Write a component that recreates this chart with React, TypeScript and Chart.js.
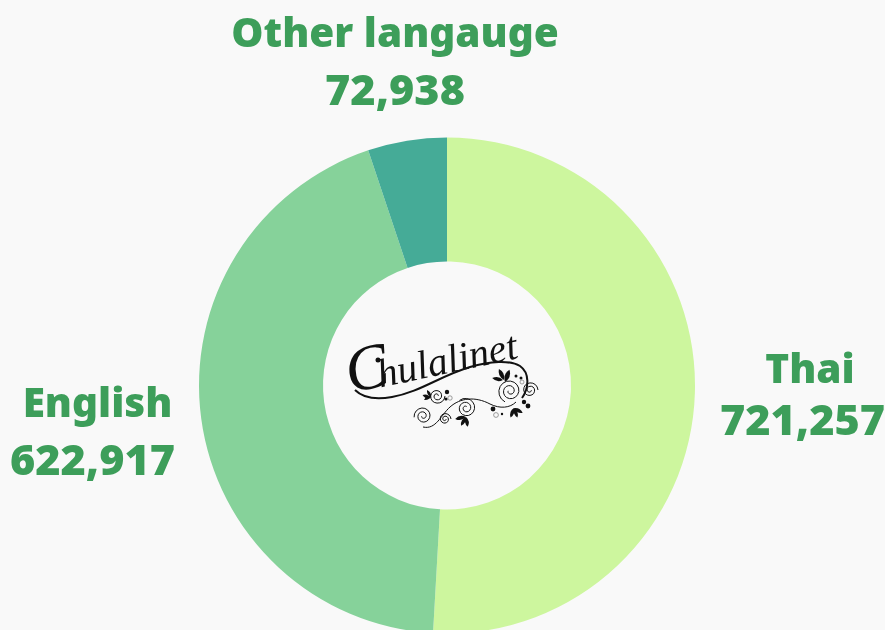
import React, { useEffect, useRef } from "react";
import { Chart, registerables } from "chart.js";

Chart.register(...registerables);

const categories = ["Thai", "English", "Other langauge"];
const values = [721257, 622917, 72938];
const sliceColors = ["#CDF69E", "#86D29A", "#45AB97"];
const textColor = "#3D9E5A";
const bg = "#F9F9F9";
const nameFont = '900 40.5px "Noto Sans", sans-serif';
const valueFont = '900 43.2px "Noto Sans", sans-serif';
// [name x, name baseline, value x, value baseline]
const labelPlaces = [
  [810, 383, 802.5, 435],
  [97.5, 417, 92.5, 475],
  [395, 47, 395, 105],
];

const labelPlugin = {
  id: "sliceLabels",
  afterDraw(chart: any) {
    const ctx = chart.ctx;
    ctx.save();
    ctx.fillStyle = textColor;
    ctx.textAlign = "center";
    ctx.textBaseline = "alphabetic";
    categories.forEach((c, i) => {
      const p = labelPlaces[i];
      ctx.font = nameFont;
      ctx.fillText(c, p[0], p[1]);
      ctx.font = valueFont;
      ctx.fillText(values[i].toLocaleString("en-US"), p[2], p[3]);
    });
    ctx.restore();
  },
};

function spiral(cx: number, cy: number, r: number, turns: number, start: number, dir = 1) {
  let d = "";
  const n = Math.round(turns * 16);
  for (let i = 0; i <= n; i++) {
    const t = i / n;
    const a = start + dir * t * turns * 2 * Math.PI;
    const rr = r * (1 - t * 0.85);
    d += `${i ? "L" : "M"}${(cx + rr * Math.cos(a)).toFixed(1)} ${(cy + rr * Math.sin(a)).toFixed(1)}`;
  }
  return d;
}

function leaf(x: number, y: number, len: number, angle: number) {
  return (
    <path
      d={`M0 0Q${len * 0.5} ${-len * 0.38} ${len} 0Q${len * 0.5} ${len * 0.38} 0 0Z`}
      transform={`translate(${x} ${y}) rotate(${angle})`}
      fill="#111"
    />
  );
}

const spirals = [
  [437, 396, 8, 2, 0, 1],
  [510, 391, 12, 2.2, 2, 1],
  [530, 390, 8, 2, 0, -1],
  [466, 408, 10, 2.2, 4, 1],
  [423, 416, 9, 2, 3, 1],
  [445, 419, 6, 2, 0, -1],
];
const dots = [
  [447, 392, 2.2],
  [446, 399, 1.6],
  [493, 409, 2.4],
  [524, 402, 2.2],
  [528, 406, 2.4],
  [516, 376, 1.5],
  [521, 378, 1.5],
  [502, 414, 1.2],
];
const rings = [
  [450, 398, 2.2],
  [496, 415, 2.4],
  [522, 382, 2],
];

function Logo() {
  return (
    <svg
      width={885}
      height={630}
      style={{ position: "absolute", left: 0, top: 0, pointerEvents: "none" }}
    >
      <text
        transform="translate(350 393) rotate(-12)"
        fontFamily='"Liberation Serif", serif'
        fontStyle="italic"
        fill="#111"
      >
        <tspan fontSize="64" dx="0" dy="0">C</tspan>
        <tspan fontSize="40" dx="-12" dy="1">hulalinet</tspan>
      </text>
      <circle cx={378} cy={360} r={2.5} fill="#111" />
      <path
        d="M355 390C362 397 375 400 392 397C420 392 440 376 470 367C490 361 510 360 520 366C530 373 529 388 522 398"
        fill="none"
        stroke="#111"
        strokeWidth={2}
      />
      <path
        d="M423 427C436 430 441 415 450 407C460 398 475 396 490 404C500 409 510 408 516 402"
        fill="none"
        stroke="#111"
        strokeWidth={1}
      />
      {spirals.map((s, i) => (
        <path key={i} d={spiral(s[0], s[1], s[2], s[3], s[4], s[5])} fill="none" stroke="#111" strokeWidth={1} />
      ))}
      {dots.map((d, i) => <circle key={i} cx={d[0]} cy={d[1]} r={d[2]} fill="#111" />)}
      {rings.map((d, i) => <circle key={i} cx={d[0]} cy={d[1]} r={d[2]} fill="none" stroke="#777" strokeWidth={0.7} />)}
      {leaf(505, 382, 13, -70)}
      {leaf(504, 380, 12, -115)}
      {leaf(503, 380, 11, -170)}
      {leaf(431, 398, 9, -160)}
      {leaf(431, 396, 8, 150)}
      {leaf(431, 397, 8, -120)}
      {leaf(466, 417, 11, 170)}
      {leaf(466, 417, 10, 120)}
      {leaf(466, 417, 10, 80)}
      {leaf(514, 408, 10, 70)}
      {leaf(514, 408, 10, 110)}
      {leaf(514, 408, 10, 30)}
    </svg>
  );
}

export default function App() {
  const ref = useRef<HTMLCanvasElement>(null);
  useEffect(() => {
    document.body.style.margin = "0";
    document.body.style.background = bg;
    const chart = new Chart(ref.current!, {
      type: "doughnut",
      data: {
        labels: categories,
        datasets: [{ data: values, backgroundColor: sliceColors, borderWidth: 0 }],
      },
      options: {
        animation: false,
        responsive: false,
        radius: 248,
        cutout: "50%",
        layout: { padding: 0 },
        plugins: { legend: { display: false }, tooltip: { enabled: false } },
      },
      plugins: [labelPlugin],
    } as any);
    return () => chart.destroy();
  }, []);
  return (
    <div style={{ position: "relative", width: 885, height: 630, overflow: "hidden", background: bg }}>
      <canvas ref={ref} width={894} height={771} style={{ display: "block" }} />
      <Logo />
    </div>
  );
}
